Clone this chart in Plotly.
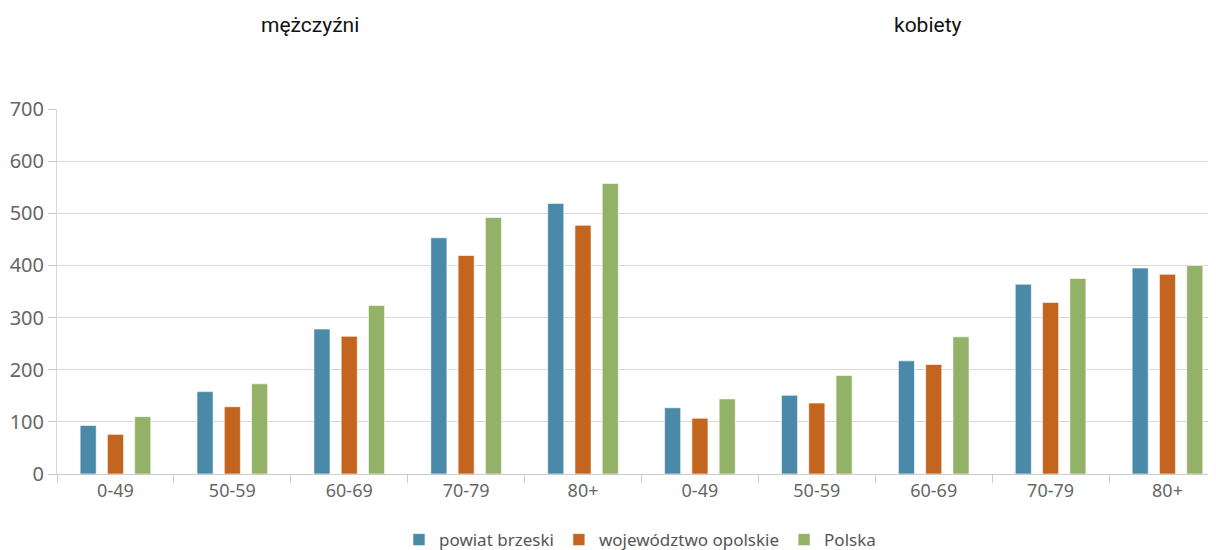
import plotly.graph_objects as go

age_groups = ["0-49", "50-59", "60-69", "70-79", "80+"]
tick_labels = age_groups + age_groups
series_names = ["powiat brzeski", "województwo opolskie", "Polska"]
colors = ["#4a8aa8", "#c3641f", "#93b167"]

# mężczyźni (5 values) followed by kobiety (5 values)
powiat_brzeski = [93, 158, 278, 453, 519, 127, 151, 217, 364, 395]
wojewodztwo_opolskie = [76, 129, 264, 419, 477, 107, 136, 210, 329, 383]
polska = [110, 173, 323, 492, 557, 144, 189, 263, 375, 400]

values = [powiat_brzeski, wojewodztwo_opolskie, polska]
xpos = list(range(len(tick_labels)))

fig = go.Figure()
for name, vals, col in zip(series_names, values, colors):
    fig.add_trace(go.Bar(
        x=xpos, y=vals, name=name,
        marker=dict(color=col, line=dict(color="rgba(255,255,255,0.6)", width=1)),
        hoverinfo="y+name",
    ))

fam = "Noto Sans, DejaVu Sans, sans-serif"

fig.update_layout(
    width=1208, height=542,
    margin=dict(l=49, r=0, t=101, b=76, autoexpand=False),
    paper_bgcolor="white", plot_bgcolor="white",
    barmode="group", bargap=0.3, bargroupgap=0.41,
    showlegend=True,
    legend=dict(orientation="h", x=0.503, xanchor="center", y=-0.181, yanchor="middle",
                font=dict(family=fam, size=17, color="#555555"),
                itemwidth=30, tracegroupgap=0),
    xaxis=dict(
        range=[-0.5, 9.415],
        tickmode="array", tickvals=xpos, ticktext=tick_labels,
        ticks="", tickfont=dict(family=fam, size=18, color="#666666"),
        showline=True, linecolor="#cccccc", linewidth=1,
        showgrid=False, zeroline=False,
        minor=dict(tickmode="linear", tick0=0.5, dtick=1, ticks="outside",
                   ticklen=8, tickcolor="#cccccc", showgrid=False),
    ),
    yaxis=dict(
        range=[0, 700], tickmode="linear", tick0=0, dtick=100,
        ticks="outside", ticklen=8, tickcolor="#cccccc",
        tickfont=dict(family=fam, size=20, color="#666666"),
        showgrid=True, gridcolor="#d9d9d9", gridwidth=1,
        showline=True, linecolor="#d9d9d9", linewidth=1,
        zeroline=False,
    ),
    annotations=[
        dict(text="mężczyźni", x=0.218, y=1.23, xref="paper", yref="paper",
             xanchor="center", yanchor="middle", showarrow=False,
             font=dict(family="Roboto, sans-serif", size=21, color="#111111")),
        dict(text="kobiety", x=0.7515, y=1.23, xref="paper", yref="paper",
             xanchor="center", yanchor="middle", showarrow=False,
             font=dict(family="Roboto, sans-serif", size=21, color="#111111")),
    ],
)

fig.write_html("out.html")
